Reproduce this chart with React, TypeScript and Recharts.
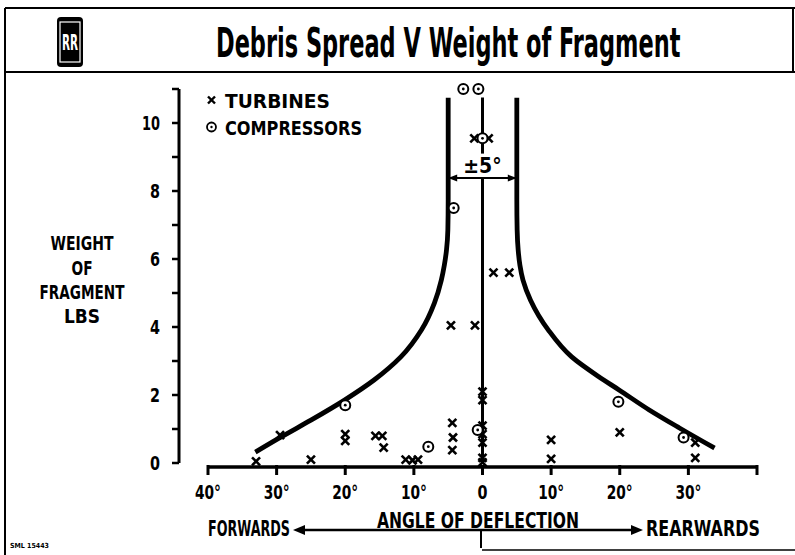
import React from 'react';
import { ScatterChart, Scatter, XAxis, YAxis, ReferenceLine, Legend, Label } from 'recharts';

const FONT = "'DejaVu Sans Condensed', 'Liberation Sans Narrow', 'DejaVu Sans', sans-serif";

// Turbine fragments: angle of deflection (deg, forwards negative) and weight (lbs)
const turbineAngles = [-33, -29.5, -25, -20, -20, -15.6, -14.6, -14.4, -11.2, -10.2, -9.4, -4.6, -4.4, -4.3, -4.4, -1.1, -1.2, 0.9, 1.6, 3.9, 0, 0, 0, 0, 0, 0, 0, 10, 10, 20, 31, 31];
const turbineWeights = [0.05, 0.82, 0.1, 0.85, 0.65, 0.8, 0.8, 0.45, 0.1, 0.08, 0.1, 4.05, 1.18, 0.75, 0.38, 4.05, 9.55, 9.55, 5.6, 5.6, 2.1, 1.85, 1.1, 0.85, 0.6, 0.15, 0.02, 0.68, 0.12, 0.9, 0.6, 0.15];

// Compressor fragments
const compressorAngles = [-20, -7.9, -4.2, -2.8, -0.6, 0, -0.7, 19.8, 29.3];
const compressorWeights = [1.7, 0.48, 7.5, 11.0, 11.0, 9.55, 0.97, 1.8, 0.75];

// Envelope curves (forward and rearward limits)
const leftCurveAngles = [-5, -5, -5, -5.05, -5.25, -5.56, -6.0, -7.0, -8.9, -11.9, -15.8, -20.1, -25, -29.4, -33.1];
const leftCurveWeights = [10.74, 9.0, 7.74, 6.85, 6.26, 5.82, 5.38, 4.71, 3.91, 3.12, 2.44, 1.85, 1.26, 0.76, 0.32];
const rightCurveAngles = [5, 5, 5, 5.05, 5.2, 5.45, 5.9, 7.0, 9.6, 13.0, 17.0, 19.9, 24.3, 28.7, 33.8];
const rightCurveWeights = [10.74, 9.0, 7.74, 6.85, 6.26, 5.82, 5.38, 4.79, 3.91, 3.12, 2.53, 2.15, 1.56, 1.03, 0.44];

const xTicks = [-40, -30, -20, -10, 0, 10, 20, 30, 40];
const yTicks = [0, 1, 2, 3, 4, 5, 6, 7, 8, 9, 10, 11];
const yLabelTicks = [0, 2, 4, 6, 8, 10];
const legendOrder = ['TURBINES', 'COMPRESSORS'];

const zip = (a: number[], w: number[]) => a.map((v, i) => ({ a: v, w: w[i] }));
const turbines = zip(turbineAngles, turbineWeights);
const compressors = zip(compressorAngles, compressorWeights);
const leftCurve = zip(leftCurveAngles, leftCurveWeights);
const rightCurve = zip(rightCurveAngles, rightCurveWeights);

const Cross = (props: any) => {
  const { cx, cy } = props;
  const s = 4;
  return (
    <g stroke="#000" strokeWidth={2.6}>
      <line x1={cx - s} y1={cy - s} x2={cx + s} y2={cy + s} />
      <line x1={cx - s} y1={cy + s} x2={cx + s} y2={cy - s} />
    </g>
  );
};

const Ring = (props: any) => {
  const { cx, cy } = props;
  return (
    <g>
      <circle cx={cx} cy={cy} r={5} fill="#fff" stroke="#000" strokeWidth={2} />
      <circle cx={cx} cy={cy} r={1.4} fill="#000" />
    </g>
  );
};

const Nothing = () => <g />;

const XTick = (props: any) => {
  const { x, y, payload } = props;
  const v = payload.value;
  const label = v === 40 ? '' : v === 0 ? '0' : `${Math.abs(v)}°`;
  return (
    <g>
      <line x1={x} y1={y + 2} x2={x} y2={y + 12} stroke="#000" strokeWidth={3} />
      {label && (
        <text x={x} y={y + 36} textAnchor="middle" fontFamily={FONT} fontWeight={700} fontSize={20} fill="#000"
          textLength={label.length > 1 ? 26 : 10} lengthAdjust="spacingAndGlyphs">
          {label}
        </text>
      )}
    </g>
  );
};

const YTick = (props: any) => {
  const { x, y, payload } = props;
  if (!yLabelTicks.includes(payload.value)) return <g />;
  const s = String(payload.value);
  return (
    <text x={x} y={y + 7} textAnchor="end" fontFamily={FONT} fontWeight={700} fontSize={20} fill="#000"
      textLength={s.length > 1 ? 18 : 10} lengthAdjust="spacingAndGlyphs">
      {s}
    </text>
  );
};

const YTitle = () => (
  <g fontFamily={FONT} fontWeight={700} fontSize={20} fill="#000" textAnchor="middle">
    <text x={82} y={250} textLength={63} lengthAdjust="spacingAndGlyphs">WEIGHT</text>
    <text x={82} y={275} textLength={21} lengthAdjust="spacingAndGlyphs">OF</text>
    <text x={82} y={299} textLength={85} lengthAdjust="spacingAndGlyphs">FRAGMENT</text>
    <text x={82} y={323} textLength={36} lengthAdjust="spacingAndGlyphs">LBS</text>
  </g>
);

const XTitle = () => (
  <g fontFamily={FONT} fontWeight={700} fontSize={21} fill="#000">
    <text x={208} y={536} textLength={82} lengthAdjust="spacingAndGlyphs">FORWARDS</text>
    <text x={377} y={528} textLength={202} lengthAdjust="spacingAndGlyphs">ANGLE OF DEFLECTION</text>
    <text x={646} y={536} textLength={114} lengthAdjust="spacingAndGlyphs">REARWARDS</text>
    <line x1={300} y1={530} x2={636} y2={530} stroke="#000" strokeWidth={2.5} />
    <polygon points="293,530 305,525 305,535" fill="#000" />
    <polygon points="643,530 631,525 631,535" fill="#000" />
    <line x1={481} y1={530} x2={481} y2={548} stroke="#000" strokeWidth={2} />
  </g>
);

const SpanShape = (props: any) => {
  const { x1, y1, x2, y2 } = props;
  return (
    <g>
      <line x1={x1} y1={y1} x2={x2} y2={y2} stroke="#000" strokeWidth={2} />
      <polygon points={`${x1},${y1} ${x1 + 9},${y1 - 3.5} ${x1 + 9},${y1 + 3.5}`} fill="#000" />
      <polygon points={`${x2},${y2} ${x2 - 9},${y2 - 3.5} ${x2 - 9},${y2 + 3.5}`} fill="#000" />
    </g>
  );
};

const LegendContent = (props: any) => {
  const items = (props.payload || [])
    .filter((p: any) => legendOrder.includes(p.value))
    .sort((p: any, q: any) => legendOrder.indexOf(p.value) - legendOrder.indexOf(q.value));
  return (
    <svg width={180} height={56} style={{ display: 'block' }}>
      {items.map((it: any, i: number) => {
        const cy = 14 + i * 27;
        const isT = it.value === 'TURBINES';
        return (
          <g key={it.value}>
            {isT ? (
              <g stroke="#000" strokeWidth={2.4}>
                <line x1={4} y1={cy - 3.5} x2={11} y2={cy + 3.5} />
                <line x1={4} y1={cy + 3.5} x2={11} y2={cy - 3.5} />
              </g>
            ) : (
              <g>
                <circle cx={7.5} cy={cy} r={4.5} fill="#fff" stroke="#000" strokeWidth={1.8} />
                <circle cx={7.5} cy={cy} r={1.2} fill="#000" />
              </g>
            )}
            <text x={21} y={cy + 7.5} fontFamily={FONT} fontWeight={700} fontSize={20} fill="#000"
              textLength={isT ? 105 : 137} lengthAdjust="spacingAndGlyphs">
              {it.value}
            </text>
          </g>
        );
      })}
    </svg>
  );
};

const Overlay = () => (
  <svg width={795} height={555} style={{ position: 'absolute', left: 0, top: 0, pointerEvents: 'none' }}>
    <g stroke="#000" strokeWidth={2} fill="none">
      <line x1={5} y1={8} x2={795} y2={8} />
      <line x1={5} y1={72} x2={795} y2={72} />
      <line x1={5} y1={8} x2={5} y2={555} />
      <line x1={793} y1={8} x2={793} y2={72} />
      <line x1={482} y1={550} x2={795} y2={550} strokeWidth={1.5} />
    </g>
    <g>
      <rect x={57} y={17} width={26} height={50} rx={4} fill="#000" />
      <rect x={60} y={22} width={20} height={40} fill="none" stroke="#fff" strokeWidth={1.2} />
      <text x={70} y={50} textAnchor="middle" fontFamily={FONT} fontWeight={700} fontSize={22} fill="#fff"
        textLength={16} lengthAdjust="spacingAndGlyphs">
        RR
      </text>
    </g>
    <text transform="translate(216 57) scale(0.624 1)" x={0} y={0} fontFamily={FONT} fontWeight={700} fontSize={40} fill="#000">
      Debris Spread V Weight of Fragment
    </text>
    <text x={10} y={548} fontFamily={FONT} fontWeight={700} fontSize={7} fill="#000">SML 15443</text>
  </svg>
);

export default function App() {
  return (
    <div style={{ position: 'absolute', left: 0, top: 0, width: 795, height: 555, background: '#fff' }}>
      <ScatterChart width={795} height={555} margin={{ top: 89, right: 38, bottom: 32, left: 0 }}>
        <XAxis type="number" dataKey="a" domain={[-40, 40]} ticks={xTicks} interval={0}
          padding={{ left: 29, right: 0 }} axisLine={false} tickLine={false} tickSize={0} tickMargin={0}
          tick={<XTick />} height={60}>
          <Label content={<XTitle />} />
        </XAxis>
        <YAxis type="number" dataKey="w" domain={[0, 11]} ticks={yTicks} interval={0} width={179}
          axisLine={{ stroke: '#000', strokeWidth: 3 }} tickLine={{ stroke: '#000', strokeWidth: 2.5 }}
          tickSize={7} tickMargin={12} tick={<YTick />}>
          <Label content={<YTitle />} />
        </YAxis>
        <ReferenceLine segment={[{ x: -40, y: -0.12 }, { x: 40, y: -0.12 }]} stroke="#000" strokeWidth={3.5} ifOverflow="visible" />
        <ReferenceLine segment={[{ x: 0, y: 0 }, { x: 0, y: 8.38 }]} stroke="#000" strokeWidth={3} ifOverflow="visible" />
        <ReferenceLine segment={[{ x: 0, y: 9.1 }, { x: 0, y: 10.75 }]} stroke="#000" strokeWidth={3} ifOverflow="visible" />
        <ReferenceLine segment={[{ x: -5, y: 8.38 }, { x: 5, y: 8.38 }]} ifOverflow="visible" shape={<SpanShape />}>
          <Label value="±5°" position="top" offset={5} fontFamily={FONT} fontWeight={700} fontSize={21} fill="#000" />
        </ReferenceLine>
        <Scatter name="Forward limit" data={leftCurve} line={{ stroke: '#000', strokeWidth: 4.8 }} lineType="joint"
          lineJointType="monotoneY" shape={<Nothing />} legendType="none" isAnimationActive={false} />
        <Scatter name="Rearward limit" data={rightCurve} line={{ stroke: '#000', strokeWidth: 4.8 }} lineType="joint"
          lineJointType="monotoneY" shape={<Nothing />} legendType="none" isAnimationActive={false} />
        <Scatter name="TURBINES" data={turbines} shape={<Cross />} isAnimationActive={false} />
        <Scatter name="COMPRESSORS" data={compressors} shape={<Ring />} isAnimationActive={false} />
        <Legend layout="horizontal" verticalAlign="middle" align="center" content={<LegendContent />}
          wrapperStyle={{ position: 'absolute', top: 86, left: 204, width: 180, height: 56 }} />
      </ScatterChart>
      <Overlay />
    </div>
  );
}
